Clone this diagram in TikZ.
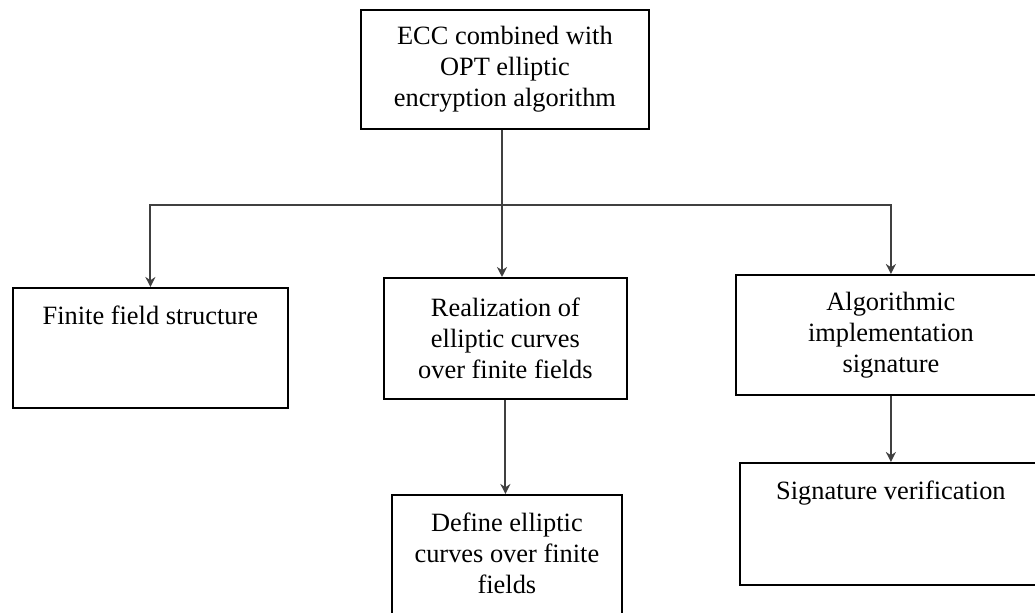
\documentclass[tikz,border=0pt]{standalone}
\usepackage{fontspec}
\setmainfont{Liberation Serif}
\usetikzlibrary{arrows.meta}
\newcommand\topbox[3]{\parbox[c][#2][t]{#1}{\centering\vspace*{9pt}#3\par}}
\begin{document}
\begin{tikzpicture}[x=0.5pt,y=-0.5pt,
  box/.style={draw=black,line width=0.9pt,inner sep=0pt,anchor=north west,
    font=\fontsize{13.2}{15.5}\selectfont,align=center},
  conn/.style={draw=black!75,line width=1pt},
  thickconn/.style={conn,line width=1.3pt},
  arr/.style={conn,-{Stealth[length=5pt,width=5pt]}},
  thickarr/.style={thickconn,-{Stealth[length=5pt,width=5pt]}}]
\useasboundingbox (0,0) rectangle (1035,613);
\fill[white] (0,0) rectangle (1035,613);
\clip (0,0) rectangle (1035,613);
\node[box,minimum width=144pt,minimum height=59.5pt] (top) at (360,9)
  {ECC combined with\\OPT elliptic\\encryption algorithm};
\node[box] (left) at (12,287) {\topbox{137.5pt}{60pt}{Finite field structure}};
\node[box,minimum width=121.5pt,minimum height=60.5pt] (mid) at (383,277)
  {Realization of\\elliptic curves\\over finite fields};
\node[box] (midb) at (391,494) {\topbox{115pt}{75pt}{Define elliptic\\curves over finite\\fields}};
\node[box,minimum width=155pt,minimum height=60pt] (right) at (735,274)
  {Algorithmic\\implementation\\signature};
\node[box] (rightb) at (739,462) {\topbox{151pt}{61pt}{Signature verification}};
\coordinate (j) at (502,205);
\draw[conn] (j |- top.south) -- (j);
\draw[arr] (j) -| (left.north);
\draw[thickarr] (j) -- (j |- mid.north);
\draw[thickarr] (j) -| (right.north);
\draw[arr] (mid.south) -- (mid.south |- midb.north);
\draw[thickarr] (right) -- (rightb);
\end{tikzpicture}
\end{document}
